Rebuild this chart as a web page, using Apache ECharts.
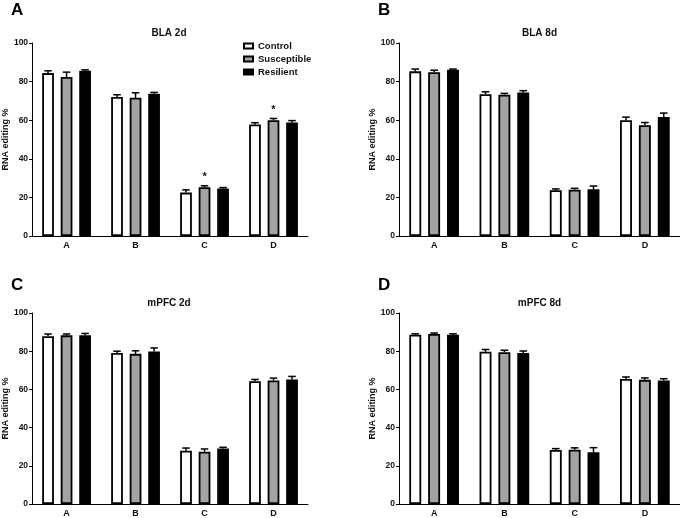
<!DOCTYPE html>
<html>
<head>
<meta charset="utf-8">
<script src="https://cdn.jsdelivr.net/npm/echarts@6/dist/echarts.min.js"></script>
<style>
  html, body { margin: 0; padding: 0; background: #fff; }
  #chart { width: 680px; height: 518px; }
</style>
</head>
<body>
<div id="chart"></div>
<script>
// sites on the x axis
const sites = ['A', 'B', 'C', 'D'];
const groups = ['Control', 'Susceptible', 'Resilient'];
const yTicks = [0, 20, 40, 60, 80, 100];

// BLA 2d
const bla2dControl = [84.4, 72.0, 22.5, 57.8];
const bla2dControlErr = [1.2, 1.2, 1.4, 0.9];
const bla2dSusceptible = [82.4, 71.6, 25.3, 60.0];
const bla2dSusceptibleErr = [2.5, 2.6, 0.7, 0.9];
const bla2dResilient = [85.6, 73.7, 24.6, 58.8];
const bla2dResilientErr = [0.5, 0.7, 0.5, 1.0];
const bla2dStars = [['', '', '', ''], ['', '', '*', '*'], ['', '', '', '']];

// BLA 8d
const bla8dControl = [85.3, 73.5, 23.7, 60.0];
const bla8dControlErr = [1.2, 1.2, 0.7, 1.6];
const bla8dSusceptible = [84.9, 73.2, 24.0, 57.4];
const bla8dSusceptibleErr = [1.0, 0.7, 0.7, 1.4];
const bla8dResilient = [86.2, 74.4, 24.2, 61.6];
const bla8dResilientErr = [0.3, 0.9, 1.7, 2.1];

// mPFC 2d
const mpfc2dControl = [87.8, 79.1, 27.9, 64.3];
const mpfc2dControlErr = [1.2, 0.9, 1.4, 0.9];
const mpfc2dSusceptible = [88.3, 78.6, 27.4, 64.7];
const mpfc2dSusceptibleErr = [0.7, 1.6, 1.4, 1.2];
const mpfc2dResilient = [88.3, 79.8, 29.0, 65.2];
const mpfc2dResilientErr = [1.0, 1.9, 0.7, 1.6];

// mPFC 8d
const mpfc8dControl = [88.6, 79.7, 28.3, 65.5];
const mpfc8dControlErr = [0.5, 1.2, 0.7, 1.0];
const mpfc8dSusceptible = [89.0, 79.5, 28.4, 65.0];
const mpfc8dSusceptibleErr = [0.5, 1.0, 1.0, 1.0];
const mpfc8dResilient = [88.6, 79.1, 27.1, 64.7];
const mpfc8dResilientErr = [0.5, 1.0, 2.4, 0.9];

const panels = [
  { letter: 'A', title: 'BLA 2d', means: [bla2dControl, bla2dSusceptible, bla2dResilient],
    errs: [bla2dControlErr, bla2dSusceptibleErr, bla2dResilientErr], stars: bla2dStars,
    grid: { left: 30, top: 43, width: 278, height: 193 } },
  { letter: 'B', title: 'BLA 8d', means: [bla8dControl, bla8dSusceptible, bla8dResilient],
    errs: [bla8dControlErr, bla8dSusceptibleErr, bla8dResilientErr], stars: null,
    grid: { left: 399, top: 43, width: 281, height: 193 } },
  { letter: 'C', title: 'mPFC 2d', means: [mpfc2dControl, mpfc2dSusceptible, mpfc2dResilient],
    errs: [mpfc2dControlErr, mpfc2dSusceptibleErr, mpfc2dResilientErr], stars: null,
    grid: { left: 30, top: 313, width: 278, height: 193 } },
  { letter: 'D', title: 'mPFC 8d', means: [mpfc8dControl, mpfc8dSusceptible, mpfc8dResilient],
    errs: [mpfc8dControlErr, mpfc8dSusceptibleErr, mpfc8dResilientErr], stars: null,
    grid: { left: 399, top: 313, width: 281, height: 193 } },
];

const FONT = 'Liberation Sans, Arial, sans-serif';
const fills = ['#ffffff', '#a3a3a3', '#000000'];
const BAR_FRAC = 0.17;   // bar width as part of the band
const GAP_FRAC = 0.58;   // gap between bars as part of bar width

const chart = echarts.init(document.getElementById('chart'));

const grids = [];
const xAxes = [];
const yAxes = [];
const titles = [];
const series = [];
const letters = [];

panels.forEach((p, pi) => {
  grids.push(Object.assign({ containLabel: false }, p.grid));
  xAxes.push({
    type: 'category', gridIndex: pi, data: sites,
    axisLine: { lineStyle: { color: '#000', width: 1 } },
    axisTick: { alignWithLabel: true, length: 3, lineStyle: { color: '#000' } },
    axisLabel: { color: '#111', fontFamily: FONT, fontWeight: 'bold', fontSize: 9, margin: 5 },
  });
  yAxes.push({
    type: 'value', gridIndex: pi, min: 0, max: 100, interval: 20,
    name: 'RNA editing %', nameLocation: 'middle', nameGap: 20,
    nameTextStyle: { color: '#111', fontFamily: FONT, fontWeight: 'bold', fontSize: 9 },
    axisLine: { show: true, lineStyle: { color: '#000', width: 1 } },
    axisTick: { show: true, length: 3, lineStyle: { color: '#000' } },
    axisLabel: { color: '#111', fontFamily: FONT, fontWeight: 'bold', fontSize: 8.5, margin: 4,
      formatter: (v) => (yTicks.includes(v) ? String(v) : '') },
    splitLine: { show: false },
  });
  titles.push({
    text: p.title,
    left: p.grid.left + p.grid.width / 2, top: p.grid.top - 15,
    textAlign: 'center',
    textStyle: { color: '#111', fontFamily: FONT, fontWeight: 'bold', fontSize: 10 },
    padding: 0,
  });
  letters.push({
    type: 'text',
    left: pi % 2 === 0 ? 11 : 378, top: pi < 2 ? 2 : 277,
    style: { text: p.letter, fill: '#000', font: 'bold 17px ' + FONT },
  });

  groups.forEach((g, gi) => {
    series.push({
      name: g, type: 'bar', xAxisIndex: pi, yAxisIndex: pi,
      data: p.means[gi],
      barWidth: (BAR_FRAC * 100) + '%',
      barGap: (GAP_FRAC * 100) + '%',
      itemStyle: { color: fills[gi], borderColor: '#000', borderWidth: 1.8 },
      emphasis: { disabled: true },
      z: 2,
    });
  });

  groups.forEach((g, gi) => {
    const stars = p.stars ? p.stars[gi] : null;
    series.push({
      type: 'custom', xAxisIndex: pi, yAxisIndex: pi,
      data: sites.map((s, i) => [i, p.means[gi][i], p.errs[gi][i]]),
      encode: { x: 0, y: 1 },
      z: 3,
      silent: true,
      renderItem: (params, api) => {
        const mean = api.value(1);
        const err = api.value(2);
        const base = api.coord([api.value(0), mean]);
        const top = api.coord([api.value(0), mean + err]);
        const band = api.size([1, 0])[0];
        const barW = band * BAR_FRAC;
        const x = base[0] + (gi - 1) * barW * (1 + GAP_FRAC);
        const cap = barW * 0.32;
        const children = [
          { type: 'line', shape: { x1: x, y1: base[1], x2: x, y2: top[1] },
            style: { stroke: '#000', lineWidth: 1.5 } },
          { type: 'line', shape: { x1: x - cap, y1: top[1], x2: x + cap, y2: top[1] },
            style: { stroke: '#000', lineWidth: 1.5 } },
        ];
        if (stars && stars[params.dataIndex]) {
          children.push({
            type: 'text',
            style: { text: stars[params.dataIndex], x: x, y: top[1] - 3,
              align: 'center', verticalAlign: 'bottom', fill: '#111',
              font: 'bold 11px ' + FONT },
          });
        }
        return { type: 'group', children: children };
      },
    });
  });
});

chart.setOption({
  animation: false,
  backgroundColor: '#fff',
  title: titles,
  grid: grids,
  xAxis: xAxes,
  yAxis: yAxes,
  legend: {
    data: groups,
    orient: 'vertical',
    left: 243, top: 41,
    itemWidth: 9, itemHeight: 5, itemGap: 3,
    padding: 0,
    icon: 'rect',
    textStyle: { color: '#111', fontFamily: FONT, fontWeight: 'bold', fontSize: 9.5, padding: [0, 0, 0, 0] },
    selectedMode: false,
  },
  graphic: letters,
  series: series,
});

window.addEventListener('resize', () => chart.resize());
</script>
</body>
</html>
